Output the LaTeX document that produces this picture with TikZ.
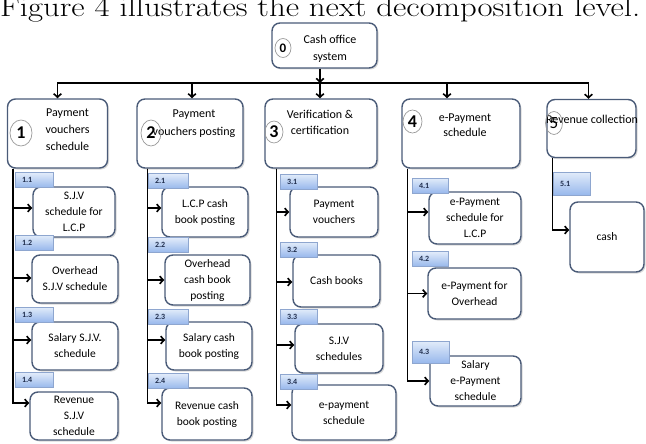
\documentclass[tikz,border=0pt]{standalone}
\usepackage{fontspec}
\newfontfamily\carfont{Carlito}
\usetikzlibrary{arrows.meta,shadows,shapes.geometric}
\definecolor{bord}{HTML}{4A5B78}
\definecolor{tabb}{HTML}{8EA6CF}
\definecolor{tabt}{HTML}{E2ECFA}
\definecolor{tabbot}{HTML}{98B8EC}
\definecolor{navy}{HTML}{1F2D4D}
\tikzset{
  lbox/.style={draw=bord, line width=1.4pt, rounded corners=8pt, fill=white,
    drop shadow={shadow xshift=1.5pt, shadow yshift=-1.5pt, opacity=0.3, fill=gray},
    inner sep=0pt},
  cbox/.style={lbox, font=\carfont\fontsize{11.5}{16}\selectfont, align=center},
  ltext/.style={font=\carfont\fontsize{12}{17}\selectfont, align=center, inner sep=0pt},
  tabbox/.style={draw=tabb, line width=0.6pt, top color=tabt, bottom color=tabbot,
    minimum height=15pt, text width=24pt, inner xsep=7pt, inner ysep=0pt, align=left,
    font=\carfont\bfseries\fontsize{8}{9}\selectfont, text=navy},
  numc/.style={ellipse, draw=gray!80, line width=0.7pt, inner sep=0pt,
    font=\carfont\bfseries\fontsize{18}{18}\selectfont},
  arr/.style={line width=1.6pt, -{Straight Barb[length=3.5pt,width=7.5pt]}},
}
\begin{document}
\begin{tikzpicture}[x=1pt,y=-1pt]
\useasboundingbox (0,0) rectangle (646,444);
\node[anchor=base west, inner sep=0pt, font=\fontsize{28}{32}\selectfont] (title) at (0,17) {\scalebox{1.17}[1]{Figure 4 illustrates the next decomposition level.}};

% root
\node[lbox, minimum width=105pt, minimum height=45pt] (n0) at (324.5,45.5) {};
\node[ltext] (n0t) at (330,48.5) {Cash office\\system};
\node[numc, minimum width=16pt, minimum height=19pt, font=\carfont\bfseries\fontsize{13}{13}\selectfont] (n0c) at (283,48) {0};

% level 1
\node[lbox, minimum width=100pt, minimum height=69pt] (n1) at (57.5,133.5) {};
\node[ltext] (n1t) at (67.5,130) {Payment\\vouchers\\schedule};
\node[numc, minimum width=22pt, minimum height=26pt] (n1c) at (21,133) {1};

\node[lbox, minimum width=106pt, minimum height=69pt] (n2) at (190,133.5) {};
\node[ltext, font=\carfont\fontsize{12}{18}\selectfont] (n2t) at (194,124) {Payment\\vouchers posting};
\node[numc, minimum width=20pt, minimum height=26pt] (n2c) at (151,133) {2};

\node[lbox, minimum width=112pt, minimum height=69pt] (n3) at (321,133.5) {};
\node[ltext, font=\carfont\fontsize{12}{16}\selectfont] (n3t) at (320,122) {Verification \&\\certification};
\node[numc, minimum width=18pt, minimum height=22pt] (n3c) at (274,132) {3};

\node[lbox, minimum width=118pt, minimum height=69pt] (n4) at (461,133.5) {};
\node[ltext, font=\carfont\fontsize{12}{15}\selectfont] (n4t) at (465,125.5) {e-Payment\\schedule};
\node[numc, minimum width=19pt, minimum height=23pt] (n4c) at (412.5,121.5) {4};

\node[lbox, minimum width=89pt, minimum height=58pt] (n5) at (591.5,128.5) {};
\node[ltext] (n5t) at (592,119) {Revenue collection};
\node[numc, minimum width=17pt, minimum height=23pt, font=\carfont\fontsize{17}{17}\selectfont] (n5c) at (554,123) {5};

% bus
\coordinate (bus) at (320,83);
\draw[arr] (n0.south -| bus) -- (bus);
\draw[arr] (bus) -| (n1.north);
\draw[arr] (bus) -| ([xshift=2pt]n2.north);
\draw[arr] (bus) -| (n3.north -| bus);
\draw[arr] (bus) -| ([xshift=-14pt]n4.north);
\draw[arr] (bus) -| ([xshift=-3pt]n5.north);

% children column 1
\node[cbox, minimum width=82pt, minimum height=50pt] (c11) at (74,212) {S.J.V\\schedule for\\L.C.P};
\node[cbox, minimum width=86pt, minimum height=48pt] (c12) at (75,279) {Overhead\\S.J.V schedule};
\node[cbox, minimum width=86pt, minimum height=48pt] (c13) at (75,346) {Salary S.J.V.\\schedule};
\node[cbox, minimum width=88pt, minimum height=48pt] (c14) at (74,416) {Revenue\\S.J.V\\schedule};
% column 2
\node[cbox, minimum width=86pt, minimum height=50pt] (c21) at (205,212) {L.C.P cash\\book posting};
\node[cbox, minimum width=85pt, minimum height=50pt] (c22) at (207.5,280) {Overhead\\cash book\\posting};
\node[cbox, minimum width=86pt, minimum height=48pt] (c23) at (209,346) {Salary cash\\book posting};
\node[cbox, minimum width=90pt, minimum height=52pt] (c24) at (207,414) {Revenue cash\\book posting};
% column 3
\node[cbox, minimum width=88pt, minimum height=50pt] (c31) at (334,212) {Payment\\vouchers};
\node[cbox, minimum width=87pt, minimum height=52pt] (c32) at (336.5,281) {Cash books};
\node[cbox, minimum width=88pt, minimum height=49pt] (c33) at (339,348.5) {S.J.V\\schedules};
\node[cbox, minimum width=104pt, minimum height=55pt] (c34) at (344,412.5) {e-payment\\schedule};
% column 4
\node[cbox, minimum width=92pt, minimum height=52pt] (c41) at (475,218) {e-Payment\\schedule for\\L.C.P};
\node[cbox, minimum width=93pt, minimum height=51pt] (c42) at (474.5,293.5) {e-Payment for\\Overhead};
\node[cbox, minimum width=91pt, minimum height=50pt] (c43) at (475.5,381) {Salary\\e-Payment\\schedule};
% column 5
\node[cbox, minimum width=74pt, minimum height=70pt] (c51) at (607,237) {cash};

% connectors
\draw[arr] ([xshift=6pt]n1.south west) |- ([yshift=4pt]c11.west);
\draw[arr] ([xshift=6pt]n1.south west) |- ([yshift=1pt]c12.west);
\draw[arr] ([xshift=6pt]n1.south west) |- ([yshift=6pt]c13.west);
\draw[arr] ([xshift=6pt]n1.south west) |- ([yshift=13pt]c14.west);
\draw[arr] ([xshift=11pt]n2.south west) |- ([yshift=4pt]c21.west);
\draw[arr] ([xshift=11pt]n2.south west) |- (c22.west);
\draw[arr] ([xshift=11pt]n2.south west) |- ([yshift=6pt]c23.west);
\draw[arr] ([xshift=11pt]n2.south west) |- ([yshift=11pt]c24.west);
\draw[arr] ([xshift=12pt]n3.south west) |- (c31.west);
\draw[arr] ([xshift=12pt]n3.south west) |- ([yshift=-1pt]c32.west);
\draw[arr] ([xshift=12pt]n3.south west) |- ([yshift=3.5pt]c33.west);
\draw[arr] ([xshift=12pt]n3.south west) |- ([yshift=7.5pt]c34.west);
\draw[arr] ([xshift=6pt]n4.south west) |- ([yshift=6pt]c41.west);
\draw[arr] ([xshift=6pt]n4.south west) |- (c42.west);
\draw[arr] ([xshift=6pt]n4.south west) |- (c43.west);
\draw[arr] ([xshift=6pt]n5.south west) |- ([yshift=7pt]c51.west);

% tabs
\node[tabbox] (t11) at (34,180) {1.1};
\node[tabbox] (t12) at (34,242.5) {1.2};
\node[tabbox] (t13) at (34,314.5) {1.3};
\node[tabbox] (t14) at (34,380) {1.4};
\node[tabbox, text width=26pt] (t21) at (168,181) {2.1};
\node[tabbox, text width=26pt] (t22) at (168,245) {2.2};
\node[tabbox, text width=26pt] (t23) at (168,316.5) {2.3};
\node[tabbox, text width=26pt] (t24) at (168,381) {2.4};
\node[tabbox, text width=23pt] (t31) at (298.5,181.5) {3.1};
\node[tabbox, text width=23pt] (t32) at (298.5,249.5) {3.2};
\node[tabbox, text width=23pt] (t33) at (298.5,316.5) {3.3};
\node[tabbox, text width=23pt] (t34) at (298.5,381.5) {3.4};
\node[tabbox, text width=22pt] (t41) at (430,185.5) {4.1};
\node[tabbox, text width=22pt] (t42) at (430,259) {4.2};
\node[tabbox, text width=23pt, minimum height=22pt] (t43) at (430.5,352) {4.3};
\node[tabbox, text width=23pt, minimum height=23pt] (t51) at (571.5,183.5) {5.1};
\end{tikzpicture}
\end{document}
